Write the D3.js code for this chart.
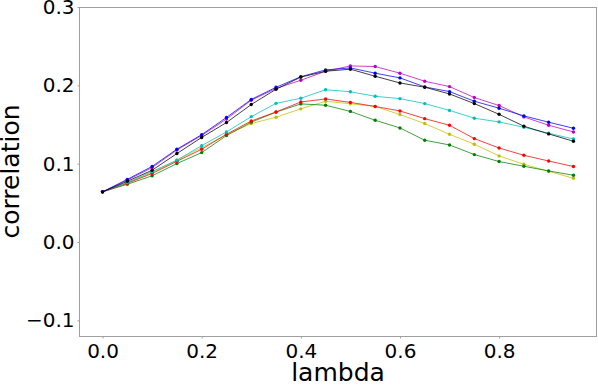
<!DOCTYPE html>
<html>
<head>
<meta charset="utf-8">
<script src="https://cdn.jsdelivr.net/npm/d3@7"></script>
<style>
  body { margin: 0; background: #fff; }
  svg text { font-family: "DejaVu Sans", sans-serif; fill: #000; }
</style>
</head>
<body>
<div id="chart"></div>
<script>
// lambda values on the x axis
var lambdas = [0.0, 0.05, 0.1, 0.15, 0.2, 0.25, 0.3, 0.35, 0.4, 0.45,
               0.5, 0.55, 0.6, 0.65, 0.7, 0.75, 0.8, 0.85, 0.9, 0.95];

// correlation per series
var yellowVals  = [0.064, 0.0755, 0.0886, 0.1045, 0.1205, 0.137, 0.1512, 0.1593, 0.170, 0.1797,
                   0.1765, 0.173, 0.1627, 0.1512, 0.1375, 0.1248, 0.1099, 0.0992, 0.0903, 0.0813];
var greenVals   = [0.064, 0.0737, 0.0845, 0.1001, 0.1141, 0.1358, 0.153, 0.1658, 0.1763, 0.1746,
                   0.1667, 0.1554, 0.1456, 0.1299, 0.1239, 0.1116, 0.1027, 0.0967, 0.0907, 0.0852];
var redVals     = [0.064, 0.075, 0.0875, 0.103, 0.1184, 0.1375, 0.1545, 0.166, 0.1788, 0.1826,
                   0.1782, 0.173, 0.1673, 0.1575, 0.149, 0.132, 0.120, 0.1107, 0.1034, 0.0963];
var cyanVals    = [0.064, 0.076, 0.090, 0.1045, 0.123, 0.1405, 0.160, 0.177, 0.1835, 0.1944,
                   0.1918, 0.186, 0.183, 0.1767, 0.168, 0.158, 0.1533, 0.1465, 0.1388, 0.1315];
var magentaVals = [0.064, 0.079, 0.095, 0.1175, 0.136, 0.157, 0.181, 0.196, 0.2065, 0.218,
                   0.2248, 0.224, 0.2155, 0.2052, 0.1984, 0.1844, 0.1742, 0.1597, 0.149, 0.1405];
var blueVals    = [0.064, 0.080, 0.0965, 0.1185, 0.137, 0.159, 0.182, 0.1975, 0.211, 0.2197,
                   0.2222, 0.2155, 0.2095, 0.198, 0.192, 0.1797, 0.1708, 0.161, 0.1529, 0.1452];
var blackVals   = [0.064, 0.0775, 0.0916, 0.1129, 0.1335, 0.1525, 0.1755, 0.195, 0.2105, 0.218,
                   0.2206, 0.2116, 0.203, 0.1976, 0.189, 0.1767, 0.163, 0.1478, 0.138, 0.1286];

var seriesColors = ["#bfbf00", "#008000", "#ff0000", "#00bfbf", "#bf00bf", "#0000ff", "#000000"];
var seriesVals = [yellowVals, greenVals, redVals, cyanVals, magentaVals, blueVals, blackVals];

var xTicks = [0.0, 0.2, 0.4, 0.6, 0.8];
var yTicks = [-0.1, 0.0, 0.1, 0.2, 0.3];

var W = 598, H = 386;
var margin = { top: 7, right: 1, bottom: 50, left: 79 };

var svg = d3.select("#chart").append("svg")
    .attr("width", W)
    .attr("height", H);

// matplotlib style 5% margin on x
var x = d3.scaleLinear()
    .domain([-0.0475, 0.9975])
    .range([margin.left, W - margin.right]);
var y = d3.scaleLinear()
    .domain([-0.12, 0.3])
    .range([H - margin.bottom, margin.top]);

// frame
svg.append("rect")
    .attr("x", margin.left + 0.5)
    .attr("y", margin.top + 0.5)
    .attr("width", W - margin.right - margin.left - 1)
    .attr("height", H - margin.bottom - margin.top)
    .attr("fill", "none")
    .attr("stroke", "#a0a0a0")
    .attr("stroke-width", 1);

// axes
var xAxis = svg.append("g")
    .attr("transform", `translate(0,${H - margin.bottom + 0.5})`)
    .call(d3.axisBottom(x).tickValues(xTicks).tickFormat(d3.format(".1f")).tickSize(2).tickPadding(5));
var yAxis = svg.append("g")
    .attr("transform", `translate(${margin.left + 0.5},0)`)
    .call(d3.axisLeft(y).tickValues(yTicks).tickFormat(d => d3.format(".1f")(d).replace("-", "\u2212")).tickSize(2).tickPadding(3));

[xAxis, yAxis].forEach(function(a){
  a.select(".domain").remove();
  a.selectAll(".tick line").attr("stroke", "#a0a0a0");
  a.selectAll(".tick text").attr("font-size", 20).attr("font-family", "DejaVu Sans").attr("fill", "#000");
});

// axis titles
svg.append("text")
    .attr("x", (margin.left + W - margin.right) / 2)
    .attr("y", 381)
    .attr("text-anchor", "middle")
    .attr("font-size", 25)
    .text("lambda");
svg.append("text")
    .attr("transform", `translate(19,${(margin.top + H - margin.bottom) / 2}) rotate(-90)`)
    .attr("text-anchor", "middle")
    .attr("font-size", 25)
    .text("correlation");

var line = d3.line()
    .x((d, i) => x(lambdas[i]))
    .y(d => y(d));

seriesVals.forEach(function(vals, k){
  var g = svg.append("g");
  g.append("path")
    .datum(vals)
    .attr("d", line)
    .attr("fill", "none")
    .attr("stroke", seriesColors[k])
    .attr("stroke-width", 1)
    .attr("stroke-opacity", 0.75);
  g.selectAll("circle")
    .data(vals)
    .join("circle")
    .attr("cx", (d, i) => x(lambdas[i]))
    .attr("cy", d => y(d))
    .attr("r", 1.7)
    .attr("fill", seriesColors[k]);
});
</script>
</body>
</html>
